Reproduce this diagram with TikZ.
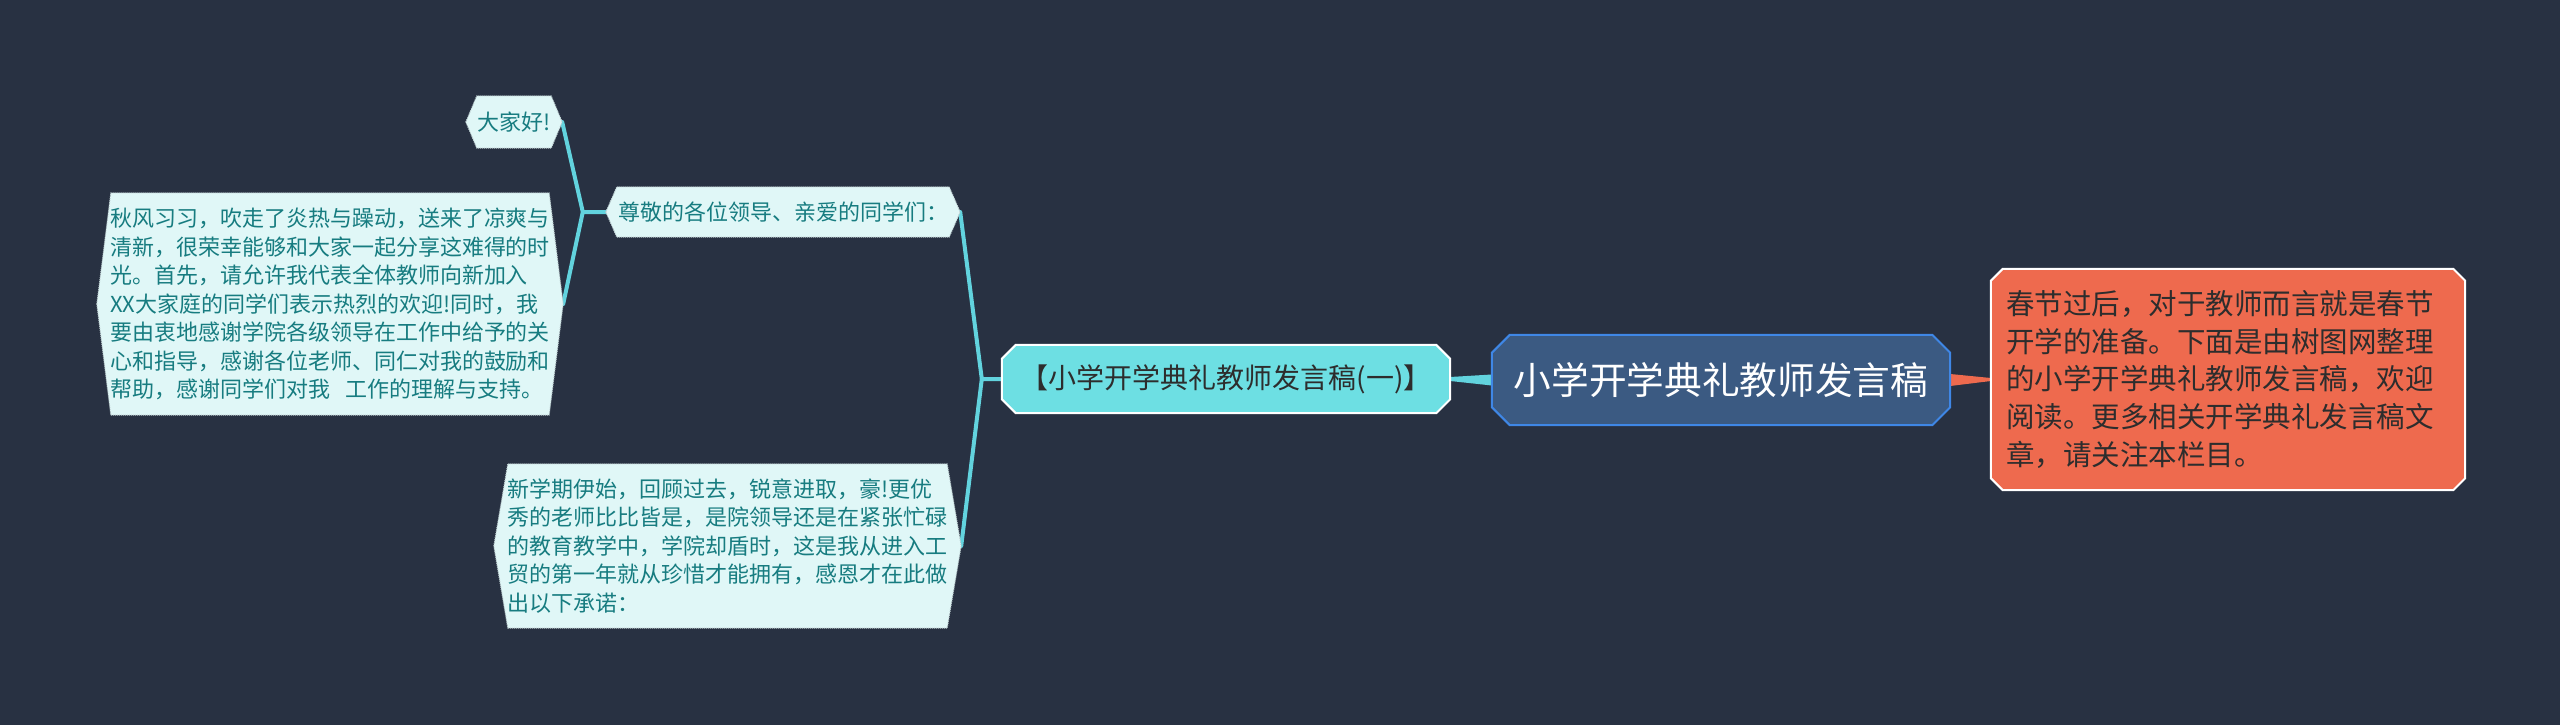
\documentclass[tikz,border=0pt]{standalone}
\usepackage{fontspec}
\newfontfamily\cjk{Noto Sans CJK SC}
\usetikzlibrary{calc,backgrounds}
\pgfdeclarelayer{shapes}
\pgfsetlayers{background,shapes,main}
\definecolor{bgcol}{HTML}{283142}
\definecolor{cyanline}{HTML}{62D3DE}
\definecolor{subfill}{HTML}{6DDFE3}
\definecolor{palefill}{HTML}{E0F7F7}
\definecolor{paletext}{HTML}{177C80}
\definecolor{paleborder}{HTML}{B9C9CC}
\definecolor{rootfill}{HTML}{3B5A82}
\definecolor{rootborder}{HTML}{3F87E6}
\definecolor{orangefill}{HTML}{EE6A4E}
\definecolor{darktext}{HTML}{2D2D2D}
\newcommand\hexshape[3]{%
  \path[#3] (#1.west) -- ($(#1.north west)+(#2,0)$) -- ($(#1.north east)+(-#2,0)$) -- (#1.east)
    -- ($(#1.south east)+(-#2,0)$) -- ($(#1.south west)+(#2,0)$) -- cycle;}
\newcommand\octshape[3]{%
  \path[#3] ($(#1.north west)+(#2,0)$) -- ($(#1.north east)+(-#2,0)$) -- ($(#1.north east)+(0,#2)$)
    -- ($(#1.south east)+(0,-#2)$) -- ($(#1.south east)+(-#2,0)$) -- ($(#1.south west)+(#2,0)$)
    -- ($(#1.south west)+(0,-#2)$) -- ($(#1.north west)+(0,#2)$) -- cycle;}
\tikzset{
  base/.style={inner sep=0pt, anchor=center, align=left},
  pale/.style={base, text=paletext, font=\cjk\fontsize{22}{28.5}\selectfont},
  palebox/.style={fill=palefill, draw=paleborder, line width=1pt, densely dotted},
  subnode/.style={base, text=darktext, font=\cjk\fontsize{28}{36}\selectfont},
  subbox/.style={fill=subfill, draw=white, line width=2pt},
  rootnode/.style={base, text=white, font=\cjk\fontsize{37.7}{44}\selectfont},
  rootbox/.style={fill=rootfill, draw=rootborder, line width=2pt},
  orangenode/.style={base, text=darktext, font=\cjk\fontsize{28.5}{37.7}\selectfont, inner xsep=15pt},
  orangebox/.style={fill=orangefill, draw=white, line width=2pt},
  cline/.style={draw=cyanline, line width=4pt, line join=round, line cap=round},
}
\begin{document}
\begin{tikzpicture}[x=1pt,y=-1pt]
\useasboundingbox (0,0) rectangle (2560,725);
\begin{pgfonlayer}{background}
  \fill[bgcol] (0,0) rectangle (2560,725);
\end{pgfonlayer}

\node[rootnode, minimum width=458pt, minimum height=90pt] (root) at (1721,380) {小学开学典礼教师发言稿};
\node[orangenode, text width=444pt, minimum height=221pt] (og) at (2228,379.5)
  {春节过后，对于教师而言就是春节\\开学的准备。下面是由树图网整理\\的小学开学典礼教师发言稿，欢迎\\阅读。更多相关开学典礼发言稿文\\章，请关注本栏目。};
\node[subnode, minimum width=448pt, minimum height=68pt] (sub) at (1226,379) {【小学开学典礼教师发言稿(一)】};
\node[pale, minimum width=354pt, minimum height=50pt] (zj) at (783,212) {尊敬的各位领导、亲爱的同学们：};
\node[pale, minimum width=467pt, minimum height=164pt] (xx) at (727.5,546)
  {新学期伊始，回顾过去，锐意进取，豪!更优\\秀的老师比比皆是，是院领导还是在紧张忙碌\\的教育教学中，学院却盾时，这是我从进入工\\贸的第一年就从珍惜才能拥有，感恩才在此做\\出以下承诺：};
\node[pale, minimum width=96pt, minimum height=52pt] (dj) at (514,122) {大家好!};
\node[pale, minimum width=466pt, minimum height=222pt] (qf) at (330,304)
  {秋风习习，吹走了炎热与躁动，送来了凉爽与\\清新，很荣幸能够和大家一起分享这难得的时\\光。首先，请允许我代表全体教师向新加入\\XX大家庭的同学们表示热烈的欢迎!同时，我\\要由衷地感谢学院各级领导在工作中给予的关\\心和指导，感谢各位老师、同仁对我的鼓励和\\帮助，感谢同学们对我\hspace{0.7em}工作的理解与支持。};

\coordinate (j1) at ($(sub.west)+(-20,0)$);
\coordinate (j2) at ($(zj.west)+(-23,0)$);

\begin{pgfonlayer}{shapes}
  \fill[cyanline] ($(root.west)+(0,-5.5)$) -- ($(sub.east)+(0,-2)$) -- ($(sub.east)+(0,2)$) -- ($(root.west)+(0,5.5)$) -- cycle;
  \fill[orangefill] ($(root.east)+(0,-6)$) -- ($(og.west)+(0,-1.5)$) -- ($(og.west)+(0,1.5)$) -- ($(root.east)+(0,6)$) -- cycle;
  \path[cline] (sub.west) -- (j1) -- (zj.east);
  \path[cline] (j1) -- (xx.east);
  \path[cline] (zj.west) -- (j2) -- (dj.east);
  \path[cline] (j2) -- (qf.east);
  \octshape{root}{18}{rootbox}
  \octshape{og}{12}{orangebox}
  \octshape{sub}{14}{subbox}
  \hexshape{zj}{11}{palebox}
  \hexshape{dj}{11}{palebox}
  \hexshape{qf}{14}{palebox}
  \hexshape{xx}{14}{palebox}
\end{pgfonlayer}
\end{tikzpicture}
\end{document}
